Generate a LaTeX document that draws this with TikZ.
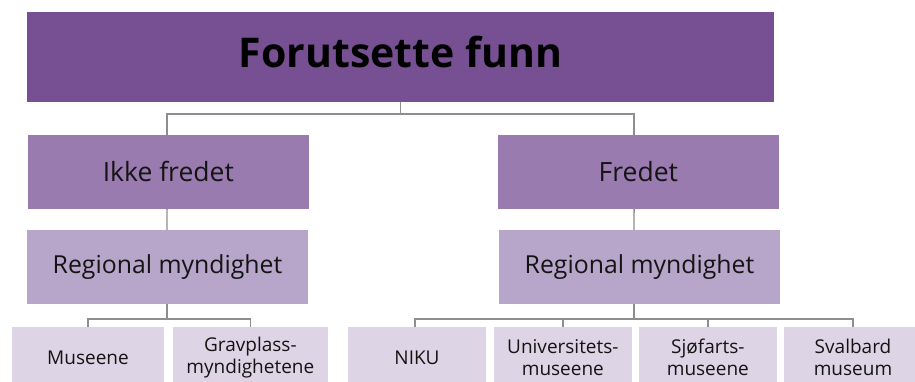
\documentclass[tikz,border=0pt]{standalone}
\usepackage{fontspec}
\setmainfont{Open Sans}
\definecolor{lvA}{HTML}{765092}
\definecolor{lvB}{HTML}{9A7BAF}
\definecolor{lvC}{HTML}{B8A5CA}
\definecolor{lvD}{HTML}{DDD4E6}
\definecolor{conn}{HTML}{8E8E8E}
\definecolor{ink}{HTML}{141414}
\tikzset{
  boxbase/.style={draw=none, inner sep=0pt, outer sep=0pt, align=center, text=ink},
  lvAbox/.style={boxbase, fill=lvA, minimum width=747pt, minimum height=89.7pt},
  lvBbox/.style={boxbase, fill=lvB, minimum width=281.3pt, minimum height=73.7pt, font=\fontsize{26.5}{30}\selectfont},
  lvCbox/.style={boxbase, fill=lvC, minimum width=281pt, minimum height=73.7pt, font=\fontsize{24.8}{28}\selectfont},
  lvDbox/.style={boxbase, fill=lvD, minimum height=61pt, font=\fontsize{19}{21.5}\selectfont},
  titletxt/.style={inner sep=0pt, text=black, font=\bfseries\fontsize{41}{46}\selectfont},
  link/.style={draw=conn, line width=1.4pt},
}
\begin{document}
\begin{tikzpicture}[x=1pt,y=-1pt]
\useasboundingbox (0,0) rectangle (915,381);
\clip (0,0) rectangle (915,381);
\fill[white] (0,0) rectangle (915,381);

% boxes
\node[lvAbox] (top) at (400.5,56.85) {};
\node[titletxt] (title) at ([yshift=5pt]top.center) {Forutsette funn};

\node[lvBbox] (ikke) at (168.35,171.85) {Ikke fredet};
\node[lvBbox] (fredet) at (638.35,171.85) {Fredet};

\node[lvCbox] (reg1) at (167.5,266.85) {Regional myndighet};
\node[lvCbox] (reg2) at (639.5,266.85) {Regional myndighet};

\node[lvDbox, minimum width=152pt] (mus) at (88,357.5) {Museene};
\node[lvDbox, minimum width=154.7pt] (grav) at (250.35,357.5) {Gravplass-\\myndighetene};
\node[lvDbox, minimum width=138pt] (niku) at (417,357.5) {NIKU};
\node[lvDbox, minimum width=137.7pt] (univ) at (562.85,357.5) {Universitets-\\museene};
\node[lvDbox, minimum width=137.7pt] (sjo) at (707.85,357.5) {Sjøfarts-\\museene};
\node[lvDbox, minimum width=138pt] (sval) at (853,357.5) {Svalbard\\museum};

% connectors
\coordinate (j0) at (400.5,114);
\draw[link] (top.south) -- (j0);
\draw[link] (j0) -| ([xshift=-1.3pt]ikke.north);
\draw[link] (j0) -| ([xshift=-4.3pt]fredet.north);

\draw[link] ([xshift=-1.3pt]ikke.south) -- ([xshift=-0.5pt]reg1.north);
\draw[link] ([xshift=-4.3pt]fredet.south) -- ([xshift=-5.5pt]reg2.north);

\coordinate (j1) at (167,319);
\draw[link] ([xshift=-0.5pt]reg1.south) -- (j1);
\draw[link] (j1) -| (mus.north);
\draw[link] (j1) -| (grav.north);

\coordinate (j2) at (634,319);
\draw[link] ([xshift=-5.5pt]reg2.south) -- (j2);
\draw[link] (j2) -| ([xshift=-2pt]niku.north);
\draw[link] (j2) -| (univ.north);
\draw[link] (j2) -| (sjo.north);
\draw[link] (j2) -| (sval.north);
\end{tikzpicture}
\end{document}
